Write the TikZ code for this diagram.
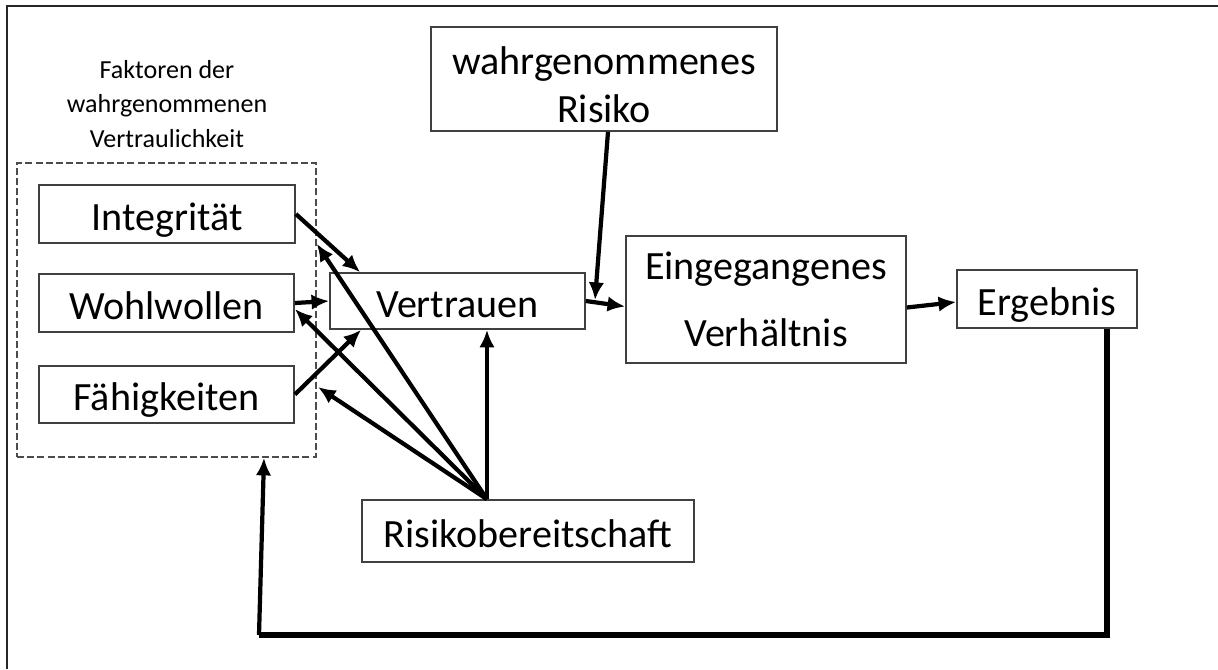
\documentclass[tikz,border=0pt]{standalone}
\usepackage{fontspec}
\setmainfont{Carlito}
\usetikzlibrary{arrows.meta,positioning}
\tikzstyle{box}=[draw=black!75,line width=0.45pt,inner sep=0pt,align=center,
  font=\fontsize{11.4}{13.7}\selectfont,text height=9.4pt,text depth=0.3pt]
\tikzstyle{pfeil}=[line width=1.2pt,-{Latex[length=5pt,width=4.4pt]}]

\begin{document}
\begin{tikzpicture}[x=0.01cm,y=-0.01cm]
  \useasboundingbox (0,0) rectangle (1218,669);
  \draw[line width=0.6pt,black!85] (7,669) -- (7,6) -- (1218,6);

  \node (titel) at (167,104) [align=center,font=\fontsize{7.4}{9.8}\selectfont]
    {Faktoren der\\wahrgenommenen\\Vertraulichkeit};
  \node[draw=black!70,line width=0.4pt,dash pattern=on 2pt off 0.9pt,
    minimum width=2.99cm,minimum height=2.94cm] (fak) at (166.5,310) {};
  \node[box,minimum width=2.56cm,minimum height=0.58cm] (integ) at (167,214) {Integrität};
  \node[box,minimum width=2.55cm,minimum height=0.58cm] (wohl) at (166.5,303) {Wohlwollen};
  \node[box,minimum width=2.55cm,minimum height=0.57cm] (fah) at (166.5,394.5) {Fähigkeiten};
  \node[box,minimum width=2.55cm,minimum height=0.56cm] (vertr) at (457.5,301) {Vertrauen};
  \node[box,minimum width=3.46cm,minimum height=1.04cm,text height=25.2pt] (risk) at (604,79)
    {wahrgenommenes\\Risiko};
  \node[box,minimum width=2.80cm,minimum height=1.27cm,text height=26.8pt,
    font=\fontsize{11.4}{19}\selectfont] (eing) at (766,299.5)
    {Eingegangenes\\Verhältnis};
  \node[box,minimum width=1.80cm,minimum height=0.58cm] (erg) at (1047,299) {Ergebnis};
  \node[box,minimum width=3.32cm,minimum height=0.62cm] (rb) at (528,531) {Risikobereitschaft};

  \coordinate (rbtop) at ([xshift=-0.41cm]rb.north);
  \coordinate (tipF) at (318,387);
  \coordinate (rkend) at (595,300);
  \coordinate (fbR) at (1107,635);
  \coordinate (fbL) at (259,635);

  % Faktoren -> Vertrauen
  \draw[pfeil] (integ.east) -- ([xshift=0.31cm]vertr.north west);
  \draw[pfeil] (wohl.east) -- (vertr.west);
  \draw[pfeil] (fah.east) -- ([xshift=0.32cm]vertr.south west);

  % Risikobereitschaft
  \draw[pfeil] (rbtop) -- (fak.east |- integ.south);
  \draw[pfeil] (rbtop) -- ([yshift=-0.06cm]wohl.east);
  \draw[pfeil] (rbtop) -- (tipF);
  \draw[pfeil] (rbtop) -- (vertr.south -| rbtop);

  % Risiko, Verhaeltnis, Ergebnis
  \draw[pfeil] ([xshift=0.04cm]risk.south) -- (rkend);
  \draw[pfeil] (vertr.east) -- ([yshift=-0.07cm]eing.west);
  \draw[pfeil] ([yshift=-0.08cm]eing.east) -- ([yshift=-0.03cm]erg.west);

  % Rueckkopplung
  \draw[line width=1.9pt] (erg.south -| fbR) -- (fbR) -- (fbL);
  \draw[line width=1.2pt,-{Latex[length=5pt,width=4.4pt]}] (fbL) -- (fak.south -| 264,0);
\end{tikzpicture}
\end{document}
